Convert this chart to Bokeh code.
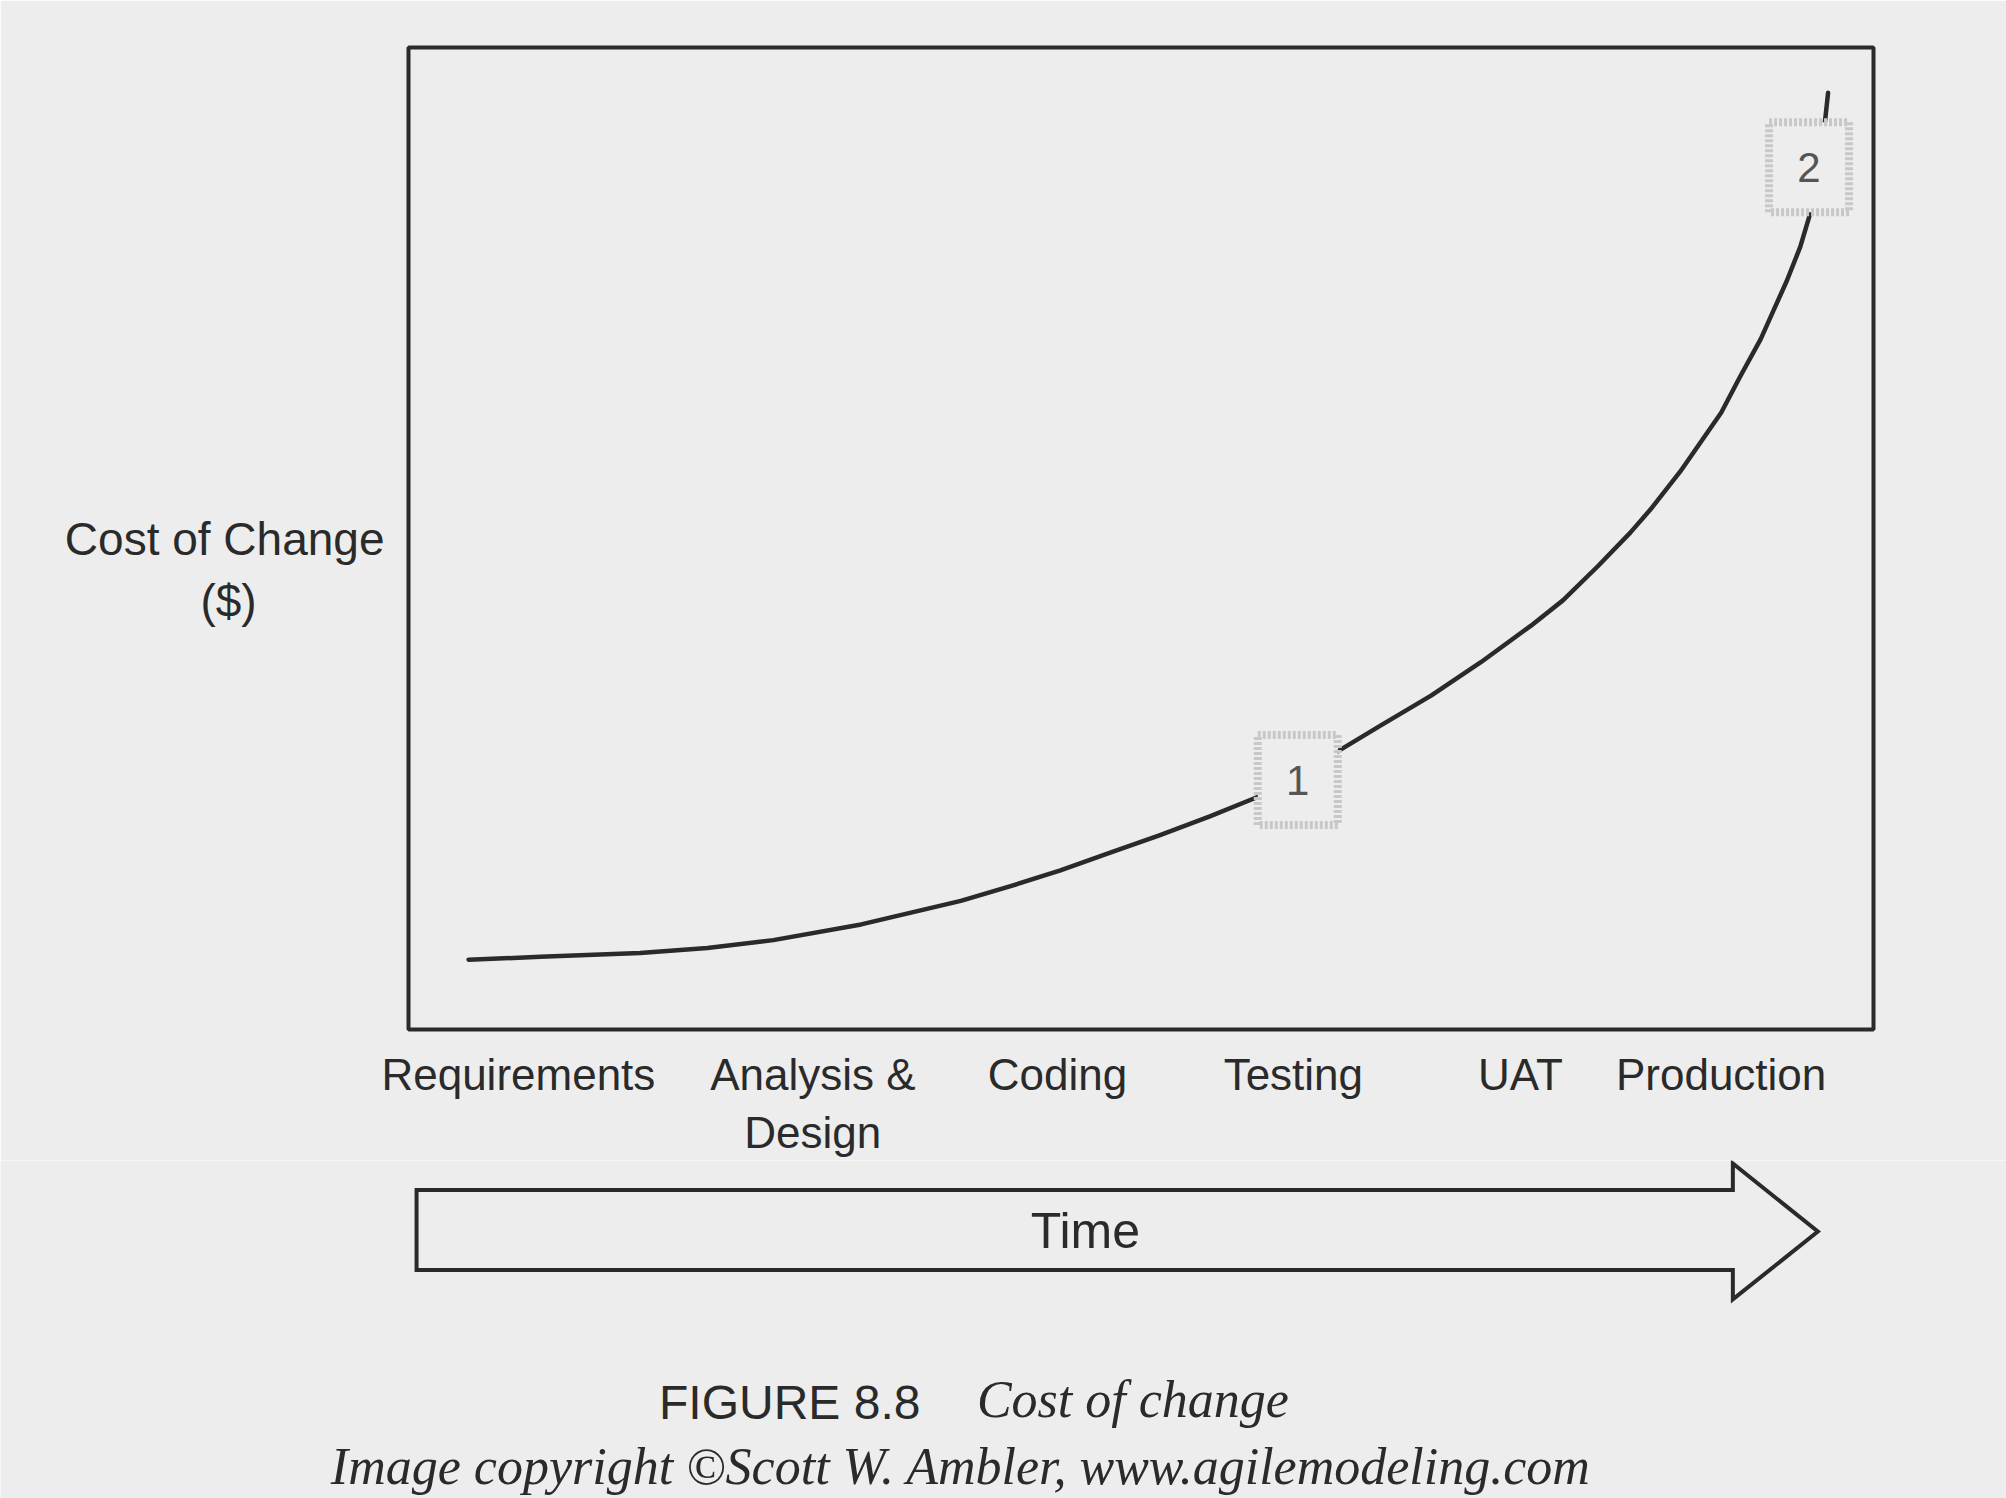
from bokeh.plotting import figure
from bokeh.layouts import column
from bokeh.models import Range1d, FixedTicker, ColumnDataSource
from bokeh.core.properties import value
from bokeh.embed import file_html
from bokeh.resources import INLINE

# ---------------- data ----------------
stages = ["Requirements", "Analysis &\nDesign", "Coding", "Testing", "UAT", "Production"]
stage_time = [75, 276, 443, 604, 759, 896]

curve_time = [41, 90, 158, 204, 249, 309, 343, 377, 411, 445, 479, 513, 547, 580,
              634, 664, 698, 732, 766, 788, 812, 834, 848, 868, 882, 896, 909, 923,
              932, 941, 950, 956, 964, 969]
curve_cost = [7.1, 7.4, 7.8, 8.3, 9.1, 10.7, 11.9, 13.1, 14.6, 16.2, 18.0, 19.8, 21.7, 23.7,
              28.3, 31.0, 34.0, 37.4, 41.1, 43.7, 47.2, 50.6, 53.0, 56.8, 59.8, 62.8, 66.5, 70.3,
              73.3, 76.3, 79.7, 82.7, 88.5, 95.4]

marker_labels = ["1", "2"]
marker_time = [607, 956]
marker_cost = [25.4, 87.8]

y_title_lines = ["Cost of Change", "($)"]
time_label = "Time"
fig_number = "FIGURE 8.8"
fig_caption = "Cost of change"
credit = "Image copyright \u00a9Scott W. Ambler, www.agilemodeling.com"

# ---------------- layout / style ----------------
W, H = 2006, 1498
TOP_H = 1160
F_LEFT, F_RIGHT, F_TOP, F_BOTTOM = 408, 133, 47, 128   # borders of the main frame
X0, X1, Y0, Y1 = 0, 1000, 0, 100

BG = "#ededed"
INK = "#2a2a2a"
SANS = "Liberation Sans"
SERIF = "Liberation Serif"

p = figure(width=W, height=TOP_H,
           x_range=Range1d(X0, X1), y_range=Range1d(Y0, Y1),
           output_backend="svg", toolbar_location=None,
           min_border_left=F_LEFT, min_border_right=F_RIGHT,
           min_border_top=F_TOP, min_border_bottom=F_BOTTOM,
           background_fill_color=BG, border_fill_color=BG,
           outline_line_color=INK, outline_line_width=4)
p.grid.visible = False

ax = p.xaxis[0]
ax.ticker = FixedTicker(ticks=stage_time)
ax.major_label_overrides = dict(zip(stage_time, stages))
ax.axis_line_color = None
ax.major_tick_line_color = None
ax.minor_tick_line_color = None
ax.major_label_standoff = 14
ax.major_label_text_font = SANS
ax.major_label_text_font_size = "44px"
ax.major_label_text_color = INK

# y axis: no ticks, horizontal two-line title; "($)" padded so it sits centred
pad = "\u00a0" * 10
ay = p.yaxis[0]
ay.ticker = FixedTicker(ticks=[])
ay.axis_line_color = None
ay.major_tick_line_color = None
ay.minor_tick_line_color = None
ay.axis_label = "\n" + y_title_lines[0] + "\n" + y_title_lines[1] + pad
ay.axis_label_text_font = SANS
ay.axis_label_text_font_size = "46px"
ay.axis_label_text_font_style = "normal"
ay.axis_label_text_color = INK
ay.axis_label_standoff = 24
try:
    ay.axis_label_orientation = "horizontal"
except AttributeError:
    pass

# cost curve
p.line(curve_time, curve_cost, line_width=4.5, line_color=INK,
       line_cap="round", line_join="round")

# numbered markers
msrc = ColumnDataSource(dict(x=marker_time, y=marker_cost, t=marker_labels))
p.rect(x="x", y="y", width=80, height=90, width_units="screen", height_units="screen",
       source=msrc, fill_color=BG, line_color="#c8c8c8", line_width=8, line_dash="3 2")
p.text(x="x", y="y", text="t", source=msrc, text_align="center", text_baseline="middle",
       text_font=value(SANS), text_font_size="42px", text_color="#555555")

# ---------------- lower panel: time arrow and caption ----------------
ppx = (X1 - X0) / (W - F_LEFT - F_RIGHT)                 # data units per pixel (x)
ppy = (Y1 - Y0) / (TOP_H - F_TOP - F_BOTTOM)             # data units per pixel (y)
y_hi = Y0 - F_BOTTOM * ppy
y_lo = y_hi - (H - TOP_H) * ppy
q = figure(width=W, height=H - TOP_H,
           x_range=Range1d(X0 - F_LEFT * ppx, X1 + F_RIGHT * ppx),
           y_range=Range1d(y_lo, y_hi),
           output_backend="svg", toolbar_location=None,
           x_axis_location=None, y_axis_location=None,
           min_border=0, min_border_left=0, min_border_right=0,
           min_border_top=0, min_border_bottom=0,
           background_fill_color=BG, border_fill_color=BG, outline_line_color=None)
q.grid.visible = False
for fig in (p, q):
    try:
        fig.frame_align = False
    except AttributeError:
        pass

arrow_x = [5.5, 904, 904, 962, 904, 904, 5.5]
arrow_y = [-16.0, -16.0, -13.3, -20.2, -27.1, -24.1, -24.1]
q.patch(arrow_x, arrow_y, fill_color=BG, line_color=INK, line_width=4, line_join="miter")
q.text(x=[462], y=[-20.2], text=[time_label], text_align="center", text_baseline="middle",
       text_font=value(SANS), text_font_size="50px", text_color=INK)

q.text(x=[171], y=[-37.6], text=[fig_number], text_align="left", text_baseline="middle",
       text_font=value(SANS), text_font_size="48px", text_color=INK)
q.text(x=[388], y=[-37.3], text=[fig_caption], text_align="left", text_baseline="middle",
       text_font=value(SERIF), text_font_style="italic", text_font_size="52px", text_color=INK)
q.text(x=[377], y=[-44.1], text=[credit], text_align="center", text_baseline="middle",
       text_font=value(SERIF), text_font_style="italic", text_font_size="52px", text_color=INK)

layout = column(p, q, spacing=0)
open("out.html", "w").write(file_html(layout, INLINE))
